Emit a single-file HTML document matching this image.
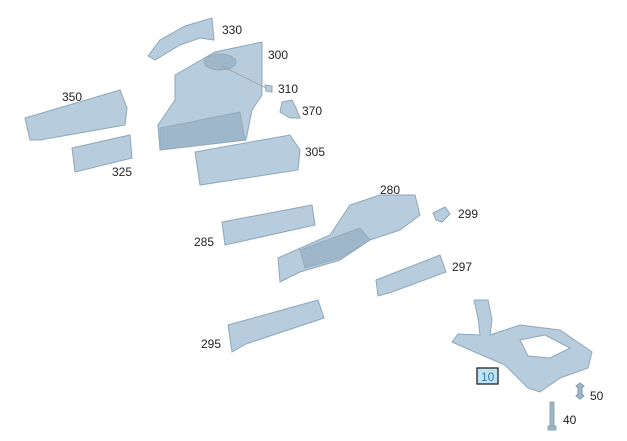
<!DOCTYPE html>
<html><head><style>
html,body{margin:0;padding:0;background:#fff;}
svg{display:block;}
text{font-family:"Liberation Sans",sans-serif;font-size:12px;fill:#222;}
.p{fill:#b7ccdc;stroke:#8ea7ba;stroke-width:1;}
.d{fill:#9fb7ca;stroke:#8ea7ba;stroke-width:0.8;}
</style></head><body>
<svg width="627" height="441" viewBox="0 0 627 441">
<!-- 330 -->
<polygon class="p" points="148,56 160,40 185,26 212,18 214,40 200,38 180,45 155,60"/>
<!-- 300 -->
<polygon class="p" points="175,75 215,52 262,42 262,95 252,110 246,140 160,150 158,125 175,100"/>
<ellipse class="d" cx="220" cy="62" rx="16" ry="8"/>
<polygon class="d" points="160,128 240,112 245,140 160,150"/>
<line x1="222" y1="66" x2="266" y2="88" stroke="#999" stroke-width="0.7"/>
<!-- 310 -->
<polygon class="p" points="265,85 272,86 272,92 266,91"/>
<!-- 370 -->
<polygon class="p" points="282,102 292,100 296,108 300,118 290,118 280,112"/>
<!-- 350 -->
<polygon class="p" points="25,118 120,90 127,108 125,125 40,140 30,140"/>
<!-- 325 -->
<polygon class="p" points="72,148 130,135 132,158 75,172"/>
<!-- 305 -->
<polygon class="p" points="195,152 290,135 300,150 298,170 200,185"/>
<!-- 285 -->
<polygon class="p" points="222,222 312,205 315,225 225,245"/>
<!-- 280 -->
<polygon class="p" points="278,258 330,235 350,205 380,195 415,195 420,215 400,230 370,240 340,260 300,272 280,282"/>
<polygon class="d" points="300,250 360,228 370,240 340,258 305,268"/>
<!-- 299 -->
<polygon class="p" points="433,213 445,207 450,214 442,222 436,220"/>
<!-- 297 -->
<polygon class="p" points="376,280 440,255 446,272 392,292 378,296"/>
<!-- 295 -->
<polygon class="p" points="228,325 318,300 324,318 246,344 232,352"/>
<!-- 10 -->
<polygon class="p" points="474,300 488,300 492,320 490,335 520,325 560,330 592,352 588,368 560,378 540,392 528,388 505,365 470,350 452,342 458,334 480,335 478,318"/>
<polygon fill="#fff" stroke="#8ea7ba" points="520,340 545,335 570,348 550,358 528,356"/>
<!-- 50 -->
<polygon fill="#9fb7ca" stroke="#7f97aa" points="580,383 584,386 582,388 582,394 584,396 580,399 576,396 578,394 578,388 576,386"/>
<!-- 40 -->
<rect x="550" y="402" width="4" height="26" fill="#9fb7ca" stroke="#7f97aa" stroke-width="0.8"/>
<rect x="548" y="426" width="8" height="4" fill="#9fb7ca" stroke="#7f97aa" stroke-width="0.8"/>
<!-- labels -->
<text x="222" y="34">330</text>
<text x="268" y="59">300</text>
<text x="278" y="93">310</text>
<text x="302" y="115">370</text>
<text x="62" y="101">350</text>
<text x="112" y="176">325</text>
<text x="305" y="156">305</text>
<text x="380" y="194">280</text>
<text x="458" y="218">299</text>
<text x="194" y="246">285</text>
<text x="452" y="271">297</text>
<text x="201" y="348">295</text>
<rect x="477" y="368" width="21" height="16" fill="#bfe3f2" stroke="#222" stroke-width="1.3"/>
<text x="481" y="381" style="fill:#3a7ca8">10</text>
<text x="590" y="400">50</text>
<text x="563" y="424">40</text>
</svg>
</body></html>
